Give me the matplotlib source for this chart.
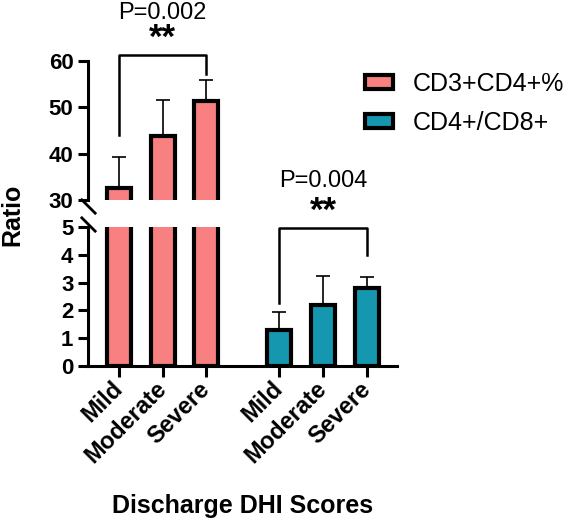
import matplotlib
matplotlib.use('Agg')
import matplotlib.pyplot as plt
import numpy as np

plt.rcParams['font.family'] = ['Liberation Sans', 'DejaVu Sans']

categories = ['Mild', 'Moderate', 'Severe']
groups = ['CD3+CD4+%', 'CD4+/CD8+']
cd3cd4_mean = [32.5, 43.8, 51.3]
cd3cd4_err = [6.8, 7.7, 4.5]
cd4cd8_mean = [1.3, 2.2, 2.8]
cd4cd8_err = [0.65, 1.05, 0.4]
pvalues = ['P=0.002', 'P=0.004']
colors = ['#F98080', '#1597B0']

pos1 = np.array([0, 1, 2])
pos2 = pos1 + 3.67

fig = plt.figure(figsize=(5.7, 5.22), dpi=100)
ax_top = fig.add_axes([0.1544, 0.6169, 0.5421, 0.2662])
ax_bot = fig.add_axes([0.1544, 0.2989, 0.5421, 0.2662])

for ax in (ax_top, ax_bot):
    for pos, mean, err, col, lab in ((pos1, cd3cd4_mean, cd3cd4_err, colors[0], groups[0]),
                                     (pos2, cd4cd8_mean, cd4cd8_err, colors[1], groups[1])):
        ax.bar(pos, mean, width=0.55, color=col, edgecolor='black', linewidth=3,
               label=lab, zorder=2)
        ax.errorbar(pos, mean, yerr=[np.zeros(3), err], fmt='none', ecolor='black',
                    elinewidth=1.2, capsize=5, capthick=1.2, zorder=1)
    ax.set_xlim(-0.71, 6.36)
    ax.spines['top'].set_visible(False)
    ax.spines['right'].set_visible(False)
    ax.spines['left'].set_linewidth(2.2)
    ax.spines['bottom'].set_linewidth(2.2)
    ax.tick_params(axis='y', width=2.2, length=7, labelsize=16)

ax_top.set_ylim(30, 60)
ax_top.set_yticks([30, 40, 50, 60])
ax_top.spines['bottom'].set_visible(False)
ax_top.set_xticks([])
ax_bot.set_ylim(0, 5)
ax_bot.set_yticks(range(6))
ax_bot.set_xticks(np.concatenate([pos1, pos2]))
ax_bot.set_xticklabels(categories * 2, rotation=45, ha='right', va='center',
                       rotation_mode='anchor', fontsize=17, fontweight='bold')
ax_bot.tick_params(axis='x', width=2.2, length=8, pad=6)
for ax in (ax_top, ax_bot):
    for t in ax.get_yticklabels():
        t.set_fontweight('bold')

# break marks
mk = dict(marker=[(-1, 1), (1, -1)], markersize=11, linestyle='none', color='k',
          mec='k', mew=2, clip_on=False)
ax_top.plot([0], [-0.04], transform=ax_top.transAxes, **mk)
ax_bot.plot([0], [1.02], transform=ax_bot.transAxes, **mk)

# significance brackets
ax_top.plot([pos1[0], pos1[0], pos1[2], pos1[2]], [44.0, 61.3, 61.3, 57.3],
            color='black', lw=1.8, clip_on=False)
ax_top.text(pos1[1], 64.8, '**', ha='center', va='center', fontsize=25, fontweight='bold')
ax_top.text(pos1[1], 70.4, pvalues[0], ha='center', va='center', fontsize=17)

ax_bot.plot([pos2[0], pos2[0], pos2[2], pos2[2]], [2.27, 4.96, 4.96, 3.99],
            color='black', lw=1.8, clip_on=False)
ax_bot.text(pos2[1], 5.55, '**', ha='center', va='center', fontsize=25, fontweight='bold')
ax_bot.text(pos2[1], 6.65, pvalues[1], ha='center', va='center', fontsize=17)

handles, labels = ax_bot.get_legend_handles_labels()
fig.legend(handles, labels, loc='upper left', bbox_to_anchor=(0.640, 0.862),
           frameon=False, fontsize=18, handlelength=1.12, handleheight=0.48,
           handletextpad=0.8, labelspacing=0.6, borderpad=0, borderaxespad=0)

fig.text(0.021, 0.588, 'Ratio', rotation=90, ha='center', va='center',
         fontsize=18, fontweight='bold')
fig.text(0.426, 0.031, 'Discharge DHI Scores', ha='center', va='center',
         fontsize=18, fontweight='bold')

fig.savefig('out.png', dpi=100)
